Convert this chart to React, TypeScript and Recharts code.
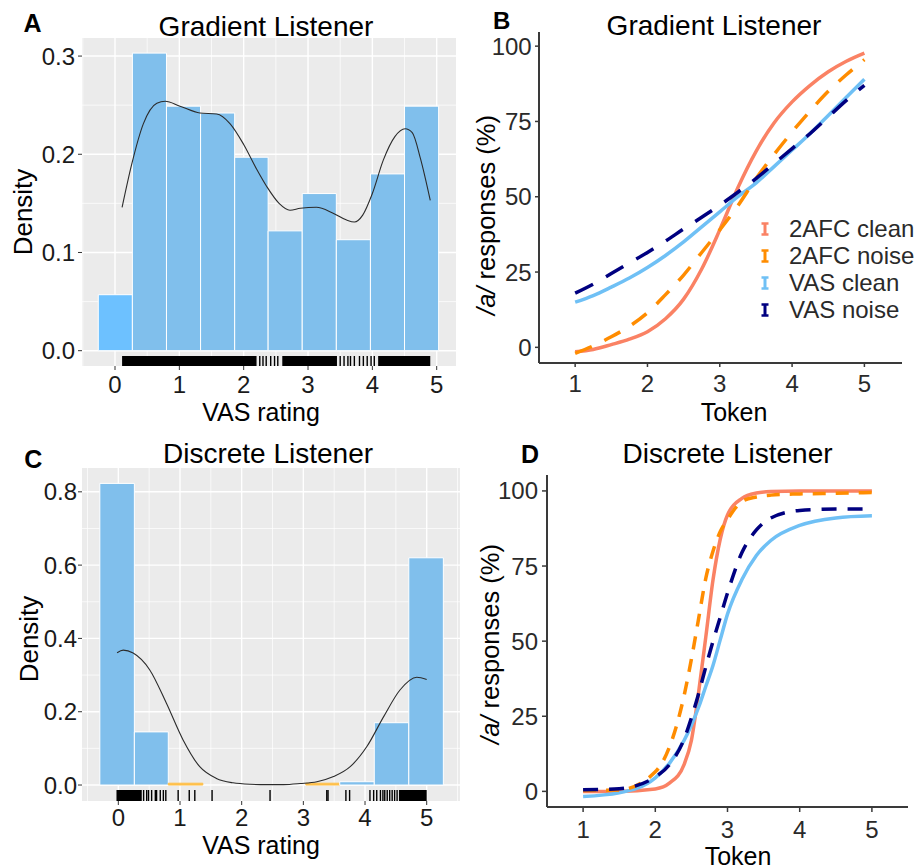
import React from 'react';
import {
  ComposedChart,
  LineChart,
  Line,
  XAxis,
  YAxis,
  CartesianGrid,
  ReferenceArea,
  ReferenceLine,
} from 'recharts';

const FONT = '"Liberation Sans", Arial, Helvetica, sans-serif';

// ---- A: gradient listener, VAS rating histogram ----
const gradBinEdges = [-0.26, 0.27, 0.8, 1.33, 1.86, 2.38, 2.91, 3.44, 3.97, 4.5, 5.03];
const gradBinDensity = [0.057, 0.303, 0.249, 0.242, 0.197, 0.122, 0.16, 0.113, 0.18, 0.249];
const gradKdeX = [0.11, 0.26, 0.44, 0.65, 0.78, 1.01, 1.32, 1.58, 1.79, 2.0, 2.2, 2.36, 2.55, 2.72, 2.88, 3.13, 3.39, 3.6, 3.72, 3.85, 4.0, 4.17, 4.35, 4.51, 4.62, 4.75, 4.9];
const gradKdeY = [0.146, 0.19, 0.231, 0.252, 0.254, 0.249, 0.242, 0.241, 0.231, 0.21, 0.185, 0.167, 0.15, 0.143, 0.145, 0.146, 0.14, 0.133, 0.131, 0.138, 0.16, 0.194, 0.218, 0.226, 0.222, 0.195, 0.153];
const gradRugBands = [[0.11, 2.2], [2.6, 3.45], [4.09, 4.9]];
const gradRugTicks = [2.25, 2.3, 2.35, 2.42, 2.48, 2.53, 3.5, 3.56, 3.62, 3.66, 3.72, 3.8, 3.86, 3.92, 3.98, 4.03];

// ---- C: discrete listener, VAS rating histogram ----
const discBinEdges = [-0.3, 0.26, 0.81, 1.37, 1.92, 2.48, 3.04, 3.59, 4.15, 4.71, 5.27];
const discBinDensity = [0.823, 0.145, 0.005, 0, 0, 0, 0.005, 0.009, 0.17, 0.62];
const discKdeX = [-0.02, 0.08, 0.24, 0.51, 0.78, 1.05, 1.32, 1.59, 1.86, 2.14, 2.41, 2.68, 2.95, 3.22, 3.49, 3.76, 4.03, 4.3, 4.57, 4.84, 5.0];
const discKdeY = [0.361, 0.368, 0.36, 0.314, 0.223, 0.123, 0.05, 0.018, 0.006, 0.002, 0.001, 0.001, 0.004, 0.009, 0.023, 0.05, 0.105, 0.186, 0.26, 0.294, 0.288];
const discRugBands = [[-0.03, 0.38], [4.55, 5.0]];
const discRugTicks = [0.41, 0.46, 0.49, 0.54, 0.6, 0.62, 0.68, 0.73, 0.77, 0.97, 1.15, 1.24, 1.52, 2.46, 3.38, 3.4, 3.69, 3.75, 4.08, 4.14, 4.19, 4.25, 4.29, 4.32, 4.36, 4.4, 4.44, 4.48, 4.52];

const vasTicks = [0, 1, 2, 3, 4, 5];

// ---- B: gradient listener, identification curves ----
const tokensB = [1, 1.25, 1.5, 1.75, 2, 2.25, 2.5, 2.75, 3, 3.25, 3.5, 3.75, 4, 4.25, 4.5, 4.75, 5];
const gradAfcClean = [-1.5, -0.7, 0.9, 2.7, 5.2, 9.5, 16, 26, 39, 53, 65, 74.5, 81.5, 87, 91.5, 95, 97.7];
const gradAfcNoise = [-2, 0.5, 3.5, 7, 11.5, 17.5, 24, 31.5, 39, 47, 56, 64, 71.5, 78.5, 85, 90.5, 95.5];
const gradVasClean = [15, 17.2, 20, 23, 26.5, 30.5, 35, 40, 45, 50, 54.5, 60, 65.5, 71, 77, 83, 89];
const gradVasNoise = [18, 21, 24.5, 28, 31.5, 35.3, 39.3, 43.2, 47.2, 51.5, 56, 61, 66, 71, 76.5, 82, 87];

// ---- D: discrete listener, identification curves ----
const tokensD = [1, 1.5, 2, 2.2, 2.4, 2.5, 2.6, 2.7, 2.8, 2.9, 3, 3.2, 3.4, 3.6, 4, 4.5, 5];
const discAfcClean = [0, 0, 0.8, 2.8, 9, 17, 33, 51.5, 70.5, 84, 92, 97.5, 99.3, 99.8, 100, 100, 100];
const discAfcNoise = [0.3, 0.5, 6.5, 15, 32, 44, 57.5, 71, 80, 86.5, 90.5, 96.5, 98, 98.6, 99, 99.2, 99.5];
const discVasClean = [-1.7, -0.5, 4.5, 9.5, 17, 22, 28, 35, 42, 50.5, 59, 70.5, 78.5, 83.5, 88.5, 91, 91.7];
const discVasNoise = [0.5, 0.9, 4.8, 9, 17.5, 24.5, 32.5, 41.5, 50, 58, 66, 79.5, 87, 91, 93.5, 94, 94];

const tokenTicks = [1, 2, 3, 4, 5];
const pctTicks = [0, 25, 50, 75, 100];

const SERIES = [
  { key: 'afcClean', label: '2AFC clean', color: '#FA8264' },
  { key: 'vasClean', label: 'VAS clean', color: '#6FC0F5' },
  { key: 'afcNoise', label: '2AFC noise', color: '#FF8C00' },
  { key: 'vasNoise', label: 'VAS noise', color: '#000080' },
];
const LEGEND_ORDER = ['afcClean', 'afcNoise', 'vasClean', 'vasNoise'];

const BAR_FILL = '#80BFEC';
const gradBinFill: Record<number, string> = { 0: '#6DC1FF' };
const discBinFill: Record<number, string> = { 2: '#FFC04A', 6: '#FFC04A' };

const tickText = { fontSize: 24, fill: '#1a1a1a', fontFamily: FONT };

function Caption({ x, y, size, children, rotate, bold }: any) {
  return (
    <div
      style={{
        position: 'absolute',
        left: x,
        top: y,
        transform: `translate(-50%, -50%)${rotate ? ' rotate(-90deg)' : ''}`,
        fontSize: size,
        lineHeight: 1,
        whiteSpace: 'nowrap',
        fontWeight: bold ? 700 : 400,
        color: '#000',
      }}
    >
      {children}
    </div>
  );
}

function HistPanel(p: any) {
  const kde = p.kdeX.map((x: number, i: number) => ({ x, d: p.kdeY[i] }));
  const bins = p.density.map((d: number, i: number) => ({ lo: p.edges[i], hi: p.edges[i + 1], d }));
  return (
    <div style={{ position: 'absolute', left: p.left, top: p.top }}>
      <ComposedChart width={p.width} height={p.height} data={kde} margin={{ top: p.mTop, right: p.mRight, bottom: 0, left: 0 }}>
        <CartesianGrid fill="#EBEBEB" fillOpacity={1} stroke="#ffffff" strokeWidth={0.7} horizontalValues={p.yMinor} verticalValues={p.xMinor} />
        <CartesianGrid stroke="#ffffff" strokeWidth={1.4} horizontalValues={p.yTicks} verticalValues={vasTicks} />
        <XAxis
          type="number"
          dataKey="x"
          domain={p.xDomain}
          allowDataOverflow
          ticks={vasTicks}
          interval={0}
          height={p.xAxisHeight}
          axisLine={false}
          tickLine={{ stroke: '#333' }}
          tickSize={4}
          tickMargin={p.xTickMargin}
          tick={tickText}
        />
        <YAxis
          type="number"
          domain={p.yDomain}
          allowDataOverflow
          ticks={p.yTicks}
          interval={0}
          width={p.yAxisWidth}
          axisLine={false}
          tickLine={{ stroke: '#333' }}
          tickSize={4}
          tickMargin={p.yTickMargin}
          tick={tickText}
          tickFormatter={(v: number) => v.toFixed(1)}
        />
        {bins.map((b: any, i: number) =>
          b.d > 0 ? (
            <ReferenceArea
              key={'bin' + i}
              x1={b.lo}
              x2={b.hi}
              y1={0}
              y2={b.d}
              fill={p.fills[i] || BAR_FILL}
              fillOpacity={1}
              stroke={p.fills[i] && b.d < 0.01 ? p.fills[i] : '#ffffff'}
              strokeWidth={1}
              ifOverflow="visible"
            />
          ) : null
        )}
        <Line dataKey="d" type="monotone" stroke="#2b2b2b" strokeWidth={1.1} dot={false} isAnimationActive={false} />
        {p.rugBands.map((r: number[], i: number) => (
          <ReferenceArea key={'rb' + i} x1={r[0]} x2={r[1]} y1={p.yDomain[0]} y2={p.rugTop} fill="#000" fillOpacity={1} stroke="none" ifOverflow="visible" />
        ))}
        {p.rugTicks.map((v: number, i: number) => (
          <ReferenceLine
            key={'rt' + i}
            segment={[{ x: v, y: p.yDomain[0] }, { x: v, y: p.rugTop }]}
            stroke="#000"
            strokeWidth={1.4}
            ifOverflow="visible"
          />
        ))}
      </ComposedChart>
    </div>
  );
}

function CurvePanel(p: any) {
  const rows = p.tokens.map((t: number, i: number) => ({
    t,
    afcClean: p.afcClean[i],
    afcNoise: p.afcNoise[i],
    vasClean: p.vasClean[i],
    vasNoise: p.vasNoise[i],
  }));
  const axisStyle = { stroke: '#3a3a3a', strokeWidth: 2 };
  return (
    <div style={{ position: 'absolute', left: p.left, top: p.top }}>
      <LineChart width={p.width} height={p.height} data={rows} margin={{ top: p.mTop, right: p.mRight, bottom: 0, left: 0 }}>
        <XAxis
          type="number"
          dataKey="t"
          domain={p.xDomain}
          allowDataOverflow
          ticks={tokenTicks}
          interval={0}
          height={p.xAxisHeight}
          axisLine={axisStyle}
          tickLine={{ stroke: '#3a3a3a', strokeWidth: 1.5 }}
          tickSize={p.tickSize}
          tickMargin={p.xTickMargin}
          tick={{ ...tickText, fill: '#2a2a2a' }}
        />
        <YAxis
          type="number"
          domain={p.yDomain}
          allowDataOverflow
          ticks={pctTicks}
          interval={0}
          width={p.yAxisWidth}
          axisLine={axisStyle}
          tickLine={{ stroke: '#3a3a3a', strokeWidth: 1.5 }}
          tickSize={p.tickSize}
          tickMargin={p.yTickMargin}
          tick={{ ...tickText, fill: '#2a2a2a' }}
        />
        {SERIES.map((s) => (
          <Line
            key={s.key}
            dataKey={s.key}
            name={s.label}
            type="monotone"
            stroke={s.color}
            strokeWidth={3.5}
            strokeDasharray={p.dashes[s.key]}
            dot={false}
            isAnimationActive={false}
          />
        ))}
      </LineChart>
    </div>
  );
}

function ErrorBarGlyph({ color }: { color: string }) {
  return (
    <svg width={10} height={14} style={{ display: 'block' }}>
      <line x1={5} y1={1} x2={5} y2={13} stroke={color} strokeWidth={3} />
      <line x1={1.5} y1={1.5} x2={8.5} y2={1.5} stroke={color} strokeWidth={2.5} />
      <line x1={1.5} y1={12.5} x2={8.5} y2={12.5} stroke={color} strokeWidth={2.5} />
    </svg>
  );
}

function TokenLegend() {
  return (
    <div style={{ position: 'absolute', left: 760, top: 215.5 }}>
      {LEGEND_ORDER.map((k) => {
        const s = SERIES.find((x) => x.key === k)!;
        return (
          <div key={k} style={{ display: 'flex', alignItems: 'center', height: 27 }}>
            <ErrorBarGlyph color={s.color} />
            <span style={{ marginLeft: 19, fontSize: 24, lineHeight: 1, color: '#2a2a2a' }}>{s.label}</span>
          </div>
        );
      })}
    </div>
  );
}

export default function App() {
  return (
    <div style={{ position: 'absolute', left: 0, top: 0, width: 921, height: 868, background: '#fff', fontFamily: FONT, overflow: 'hidden' }}>
      <HistPanel
        left={0}
        top={0}
        width={460}
        height={430}
        mTop={38}
        mRight={4}
        yAxisWidth={82}
        xAxisHeight={64}
        xDomain={[-0.513, 5.3]}
        yDomain={[-0.0156, 0.3184]}
        yTicks={[0, 0.1, 0.2, 0.3]}
        yMinor={[0.05, 0.15, 0.25]}
        xMinor={[-0.5, 0.5, 1.5, 2.5, 3.5, 4.5]}
        rugTop={-0.0054}
        xTickMargin={5.5}
        yTickMargin={3}
        edges={gradBinEdges}
        density={gradBinDensity}
        fills={gradBinFill}
        kdeX={gradKdeX}
        kdeY={gradKdeY}
        rugBands={gradRugBands}
        rugTicks={gradRugTicks}
      />
      <HistPanel
        left={0}
        top={430}
        width={460}
        height={438}
        mTop={38}
        mRight={0}
        yAxisWidth={82}
        xAxisHeight={67}
        xDomain={[-0.589, 5.54]}
        yDomain={[-0.0436, 0.865]}
        yTicks={[0, 0.2, 0.4, 0.6, 0.8]}
        yMinor={[0.1, 0.3, 0.5, 0.7]}
        xMinor={[-0.5, 0.5, 1.5, 2.5, 3.5, 4.5, 5.5]}
        rugTop={-0.0136}
        xTickMargin={4}
        yTickMargin={1}
        edges={discBinEdges}
        density={discBinDensity}
        fills={discBinFill}
        kdeX={discKdeX}
        kdeY={discKdeY}
        rugBands={discRugBands}
        rugTicks={discRugTicks}
      />
      <CurvePanel
        left={460}
        top={0}
        width={461}
        height={430}
        mTop={32}
        mRight={19}
        yAxisWidth={79}
        xAxisHeight={67}
        xDomain={[0.5, 5.52]}
        yDomain={[-5.2, 104.7]}
        tickSize={4}
        xTickMargin={8}
        yTickMargin={3.3}
        tokens={tokensB}
        afcClean={gradAfcClean}
        afcNoise={gradAfcNoise}
        vasClean={gradVasClean}
        vasNoise={gradVasNoise}
        dashes={{ afcNoise: '18 14', vasNoise: '20 15' }}
      />
      <CurvePanel
        left={460}
        top={430}
        width={461}
        height={438}
        mTop={45}
        mRight={13}
        yAxisWidth={87}
        xAxisHeight={61}
        xDomain={[0.5, 5.5]}
        yDomain={[-5.2, 105.3]}
        tickSize={5}
        xTickMargin={9}
        yTickMargin={4}
        tokens={tokensD}
        afcClean={discAfcClean}
        afcNoise={discAfcNoise}
        vasClean={discVasClean}
        vasNoise={discVasNoise}
        dashes={{ afcNoise: '13 10', vasNoise: '15 11' }}
      />
      <TokenLegend />

      <Caption x={32.5} y={23.3} size={25} bold>A</Caption>
      <Caption x={501.7} y={20.5} size={24} bold>B</Caption>
      <Caption x={33.3} y={459} size={25} bold>C</Caption>
      <Caption x={530} y={454} size={25} bold>D</Caption>

      <Caption x={266} y={26.7} size={28}>Gradient Listener</Caption>
      <Caption x={714} y={26.3} size={28}>Gradient Listener</Caption>
      <Caption x={268} y={454} size={28}>Discrete Listener</Caption>
      <Caption x={727.5} y={454} size={28}>Discrete Listener</Caption>

      <Caption x={261} y={412} size={25}>VAS rating</Caption>
      <Caption x={261} y={845} size={25}>VAS rating</Caption>
      <Caption x={734} y={411.5} size={25}>Token</Caption>
      <Caption x={738} y={856} size={25}>Token</Caption>

      <Caption x={23.3} y={212} size={26} rotate>Density</Caption>
      <Caption x={29} y={639} size={26} rotate>Density</Caption>
      <Caption x={487} y={215} size={25.5} rotate><i>/a/</i> responses (%)</Caption>
      <Caption x={491} y={644} size={25.5} rotate><i>/a/</i> responses (%)</Caption>
    </div>
  );
}
